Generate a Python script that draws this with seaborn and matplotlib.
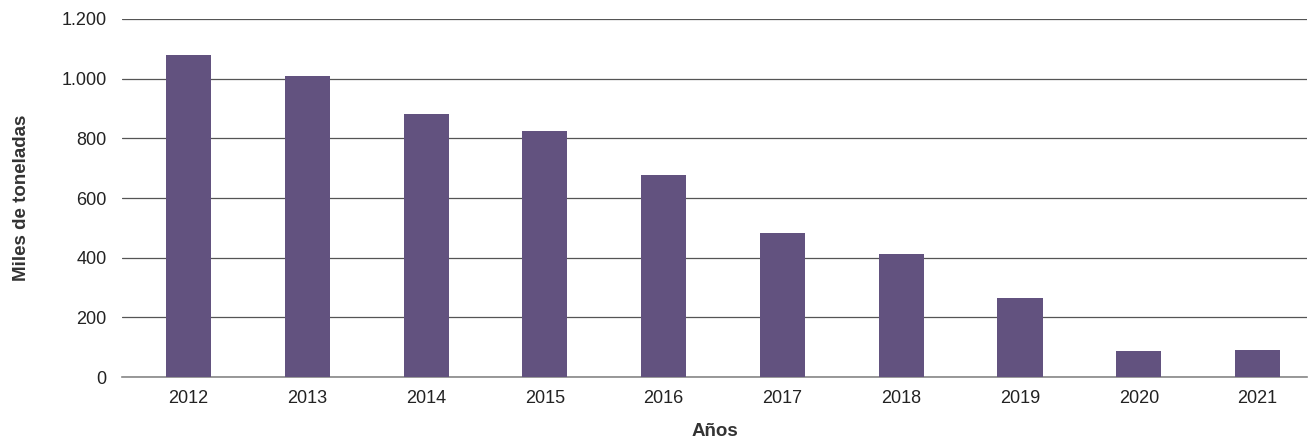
import pandas as pd
import seaborn as sns
import matplotlib.pyplot as plt
from matplotlib.ticker import FuncFormatter

anios = ['2012', '2013', '2014', '2015', '2016', '2017', '2018', '2019', '2020', '2021']
miles_toneladas = [1079, 1009, 882, 825, 677, 483, 412, 265, 87, 91]

df = pd.DataFrame({'Años': anios, 'Miles de toneladas': miles_toneladas})

sns.set_style('white')
plt.rcParams['font.family'] = ['Liberation Sans', 'DejaVu Sans']

fig = plt.figure(figsize=(13.15, 4.41), dpi=100)
ax = fig.add_axes([0.0928, 0.145, 0.901, 0.812])

sns.barplot(data=df, x='Años', y='Miles de toneladas', color='#62527f',
            saturation=1, width=0.38, linewidth=0, ax=ax, zorder=3)

ax.set_xlim(-0.56, 9.415)
ax.set_ylim(0, 1200)
ax.set_yticks(range(0, 1201, 200))
ax.yaxis.set_major_formatter(FuncFormatter(lambda v, p: f'{int(v):,}'.replace(',', '.')))
ax.grid(axis='y', color='#555555', linewidth=0.9, zorder=0)
ax.set_axisbelow(True)
for s in ['left', 'right', 'top']:
    ax.spines[s].set_visible(False)
ax.spines['bottom'].set_color('#888888')
ax.spines['bottom'].set_linewidth(1.2)
ax.tick_params(axis='both', length=0, labelsize=13, colors='#222222', pad=9)
ax.tick_params(axis='y', pad=11)

ax.set_xlabel('Años', fontsize=13.5, fontweight='bold', color='#333333', labelpad=12)
ax.set_ylabel('Miles de toneladas', fontsize=13.5, fontweight='bold', color='#333333')
ax.yaxis.set_label_coords(-0.078, 0.5)

fig.savefig('out.png', dpi=100)
